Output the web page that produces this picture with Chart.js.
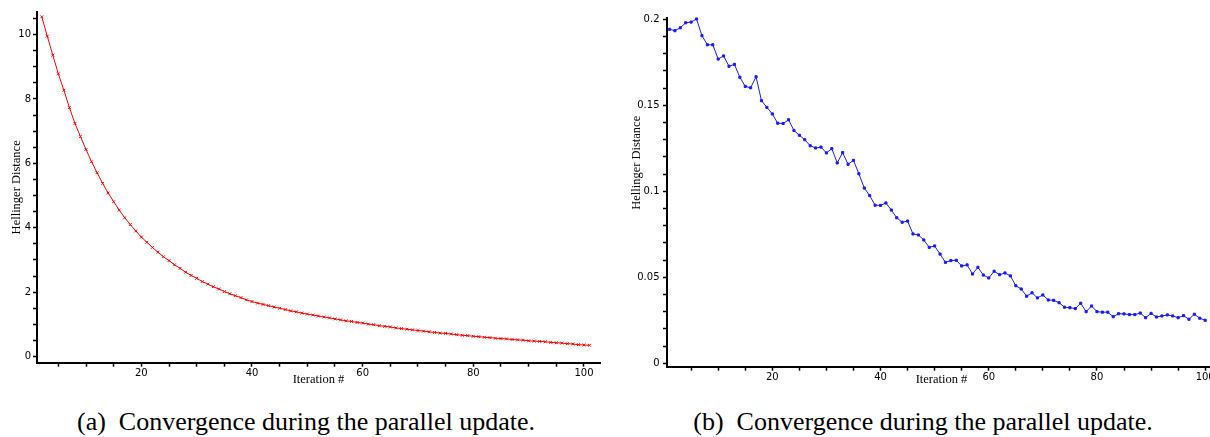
<!DOCTYPE html>
<html>
<head>
<meta charset="utf-8">
<script src="https://cdn.jsdelivr.net/npm/chart.js@4"></script>
<style>
  body { margin: 0; width: 1210px; height: 437px; overflow: hidden; background: #fff; position: relative; }
  canvas { position: absolute; top: 0; }
  .caption { position: absolute; top: 409px; width: 600px; text-align: center; color: #000;
             font-family: "Liberation Serif", serif; font-size: 26px; line-height: 26px; white-space: pre; }
</style>
</head>
<body>
<canvas id="stage" width="610" height="400" style="left:0"></canvas>
<canvas id="stage2" width="605" height="400" style="left:620px"></canvas>
<div class="caption" style="left:6px">(a)  Convergence during the parallel update.</div>
<div class="caption" style="left:623px">(b)  Convergence during the parallel update.</div>
<script>
// (a) Hellinger distance, iterations 2..101
const leftDistance = [
  10.55, 9.95, 9.36, 8.78, 8.27, 7.73, 7.24, 6.83, 6.43, 6.05,
  5.71, 5.38, 5.08, 4.81, 4.55, 4.31, 4.10, 3.90, 3.71, 3.55,
  3.39, 3.24, 3.10, 2.98, 2.85, 2.74, 2.62, 2.52, 2.43, 2.33,
  2.25, 2.17, 2.10, 2.02, 1.95, 1.89, 1.83, 1.76, 1.71, 1.66,
  1.62, 1.58, 1.54, 1.50, 1.46, 1.42, 1.39, 1.35, 1.32, 1.29,
  1.26, 1.23, 1.20, 1.17, 1.14, 1.11, 1.09, 1.06, 1.04, 1.01,
  0.99, 0.96, 0.94, 0.92, 0.89, 0.87, 0.85, 0.83, 0.81, 0.79,
  0.77, 0.75, 0.73, 0.72, 0.70, 0.68, 0.66, 0.65, 0.63, 0.62,
  0.60, 0.59, 0.57, 0.56, 0.55, 0.53, 0.52, 0.51, 0.49, 0.48,
  0.47, 0.46, 0.44, 0.43, 0.42, 0.40, 0.39, 0.37, 0.36, 0.35
];
const leftIter = leftDistance.map((v, i) => i + 2);

// (b) Hellinger distance, iterations 1..100
const rightDistance = [
  0.1942, 0.1934, 0.1951, 0.1980, 0.1984, 0.2002, 0.1905, 0.1852, 0.1852, 0.1769,
  0.1787, 0.1727, 0.1738, 0.1663, 0.1610, 0.1602, 0.1666, 0.1527, 0.1488, 0.1450,
  0.1396, 0.1394, 0.1416, 0.1354, 0.1326, 0.1300, 0.1265, 0.1252, 0.1257, 0.1223,
  0.1248, 0.1165, 0.1225, 0.1157, 0.1180, 0.1102, 0.1019, 0.0975, 0.0919, 0.0918,
  0.0932, 0.0891, 0.0846, 0.0820, 0.0827, 0.0752, 0.0746, 0.0717, 0.0674, 0.0682,
  0.0635, 0.0587, 0.0597, 0.0599, 0.0566, 0.0572, 0.0519, 0.0558, 0.0513, 0.0496,
  0.0535, 0.0515, 0.0525, 0.0508, 0.0451, 0.0432, 0.0390, 0.0410, 0.0380, 0.0397,
  0.0368, 0.0366, 0.0352, 0.0326, 0.0323, 0.0318, 0.0349, 0.0300, 0.0333, 0.0300,
  0.0297, 0.0297, 0.0271, 0.0288, 0.0287, 0.0283, 0.0283, 0.0292, 0.0265, 0.0290,
  0.0269, 0.0275, 0.0281, 0.0275, 0.0265, 0.0277, 0.0256, 0.0285, 0.0262, 0.0250
];
const rightIter = rightDistance.map((v, i) => i + 1);

// tick labels
const xLabels = [20, 40, 60, 80, 100];
const leftYLabels = [0, 2, 4, 6, 8, 10];
const rightYLabels = [0, 0.05, 0.1, 0.15, 0.2];

const tickFont = { family: 'DejaVu Sans', size: 10 };
const titleFont = { family: 'Liberation Serif', size: 12.5, lineHeight: 1 };

// small tick marks every `step`, labels only on the listed values
function tickList(from, to, step) {
  const list = [];
  for (let k = 0; from + k * step <= to + 1e-9; k++) {
    list.push(Math.round((from + k * step) * 10000) / 10000);
  }
  return list;
}
function labelFor(labels) {
  return function (value) {
    const hit = labels.find(l => Math.abs(l - value) < 1e-9);
    return hit === undefined ? '' : String(hit);
  };
}

function drawChart(id, xs, ys, o) {
  new Chart(document.getElementById(id), {
    type: 'line',
    data: {
      datasets: [{
        data: xs.map((x, i) => ({ x: x, y: ys[i] })),
        borderColor: o.color,
        backgroundColor: o.color,
        borderWidth: 1,
        pointStyle: o.pointStyle,
        pointRadius: o.pointRadius,
        pointBorderWidth: 1,
        tension: 0,
        clip: false
      }]
    },
    options: {
      responsive: false,
      animation: false,
      layout: { padding: o.padding },
      plugins: { legend: { display: false }, tooltip: { enabled: false } },
      scales: {
        x: {
          type: 'linear',
          min: o.xMin,
          max: o.xMax,
          afterBuildTicks: s => { s.ticks = tickList(5, 100, 5).map(v => ({ value: v })); },
          afterFit: s => { s.height = o.xAxisHeight; },
          ticks: { callback: labelFor(xLabels), font: tickFont, color: '#000', padding: 1, maxRotation: 0, autoSkip: false },
          grid: { drawOnChartArea: false, tickLength: 4, tickColor: '#000', tickWidth: 1.5 },
          border: { color: '#000', width: 2 },
          title: { display: true, text: 'Iteration #', font: titleFont, color: '#000', padding: 0 }
        },
        y: {
          min: o.yMin,
          max: o.yMax,
          afterBuildTicks: s => { s.ticks = tickList(0, o.yTop, o.yStep).map(v => ({ value: v })); },
          afterFit: s => { s.width = o.yAxisWidth; },
          ticks: { callback: labelFor(o.yLabels), font: tickFont, color: '#000', padding: o.yPad, autoSkip: false },
          grid: { drawOnChartArea: false, tickLength: 4, tickColor: '#000', tickWidth: 1.5 },
          border: { color: '#000', width: 2 },
          // leading blanks lift the label a little above the axis middle, as in the source
          title: { display: true, text: o.yTitle, font: titleFont, color: '#000', padding: { top: 10, bottom: 0 } }
        }
      }
    }
  });
}

drawChart('stage', leftIter, leftDistance, {
  color: '#ff0000', pointStyle: 'crossRot', pointRadius: 2,
  xMin: 1.14, xMax: 102.9, yMin: -0.19, yMax: 10.7, yTop: 10.5, yStep: 0.5,
  yLabels: leftYLabels, yPad: 2, yAxisWidth: 37, xAxisHeight: 23,
  yTitle: 'Hellinger Distance',
  padding: { top: 12, right: 10, bottom: 14.3, left: 0 }
});

drawChart('stage2', rightIter, rightDistance, {
  color: '#1a1aff', pointStyle: 'rect', pointRadius: 1.5,
  xMin: 0.54, xMax: 102, yMin: -0.002, yMax: 0.2006, yTop: 0.2, yStep: 0.01,
  yLabels: rightYLabels, yPad: 3.5, yAxisWidth: 47, xAxisHeight: 19,
  yTitle: '\u00a0'.repeat(19) + 'Hellinger Distance',
  padding: { top: 18.3, right: 9, bottom: 14.3, left: 0 }
});
</script>
</body>
</html>
